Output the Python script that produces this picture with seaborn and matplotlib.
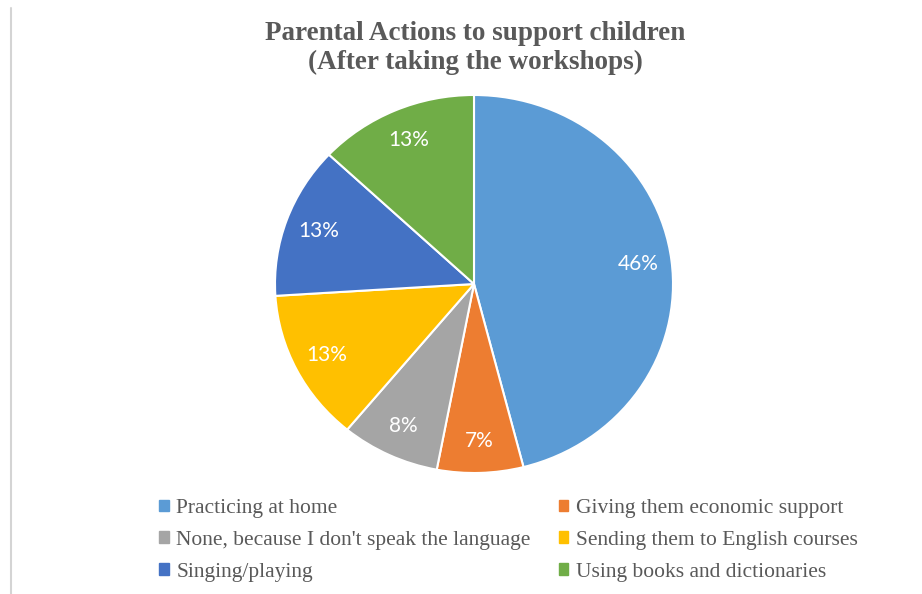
import matplotlib
matplotlib.use("Agg")
import matplotlib.pyplot as plt
import seaborn as sns
from matplotlib.lines import Line2D

# data
acciones = [
    "Practicing at home",
    "Giving them economic support",
    "None, because I don't speak the language",
    "Sending them to English courses",
    "Singing/playing",
    "Using books and dictionaries",
]
porcentajes = [46, 7, 8, 13, 13, 13]
colores = ["#5B9BD5", "#ED7D31", "#A5A5A5", "#FFC000", "#4472C4", "#70AD47"]

titulo = "Parental Actions to support children\n(After taking the workshops)"

sns.set_theme(style="white")
plt.rcParams["font.family"] = ["Liberation Serif", "DejaVu Serif"]

fig = plt.figure(figsize=(9.22, 5.94), dpi=100)
fig.patch.set_facecolor("white")

# thin grey border at left, like the screenshot
fig.add_artist(Line2D([11 / 922, 11 / 922], [0, 1 - 8 / 594],
                      transform=fig.transFigure, color="#d4d4d4", lw=1.5))

fig.text(475 / 922, 1 - 48 / 594, titulo, ha="center", va="center",
         fontsize=19.5, fontweight="bold", color="#595959", linespacing=1.22)

# pie axes (slightly wider than tall, as in the reference)
ax = fig.add_axes([275 / 922, 1 - 473 / 594, 398 / 922, 378 / 594])
wedges, textos, autotextos = ax.pie(
    porcentajes,
    colors=colores,
    startangle=90,
    counterclock=False,
    autopct=lambda p: f"{p:.0f}%",
    pctdistance=0.83,
    wedgeprops=dict(edgecolor="white", linewidth=1.5),
    textprops=dict(color="white", fontsize=15, family="Lato"),
)
ax.set_aspect("auto")
ax.set_xlim(-1, 1)
ax.set_ylim(-1, 1)
ax.axis("off")

# legend, row-major order in two columns
orden = [0, 2, 4, 1, 3, 5]
handles = [plt.Rectangle((0, 0), 1, 1, color=colores[i]) for i in orden]
labels = [acciones[i] for i in orden]
leg = fig.legend(handles, labels, ncol=2, loc="upper left",
                 bbox_to_anchor=(159 / 922, 1 - 499 / 594),
                 frameon=False, fontsize=15.5, handlelength=0.45, handleheight=0.45,
                 handletextpad=0.35, columnspacing=1.3, labelspacing=0.6,
                 borderpad=0, borderaxespad=0)
for t in leg.get_texts():
    t.set_color("#595959")

fig.savefig("out.png", dpi=100, facecolor="white")
